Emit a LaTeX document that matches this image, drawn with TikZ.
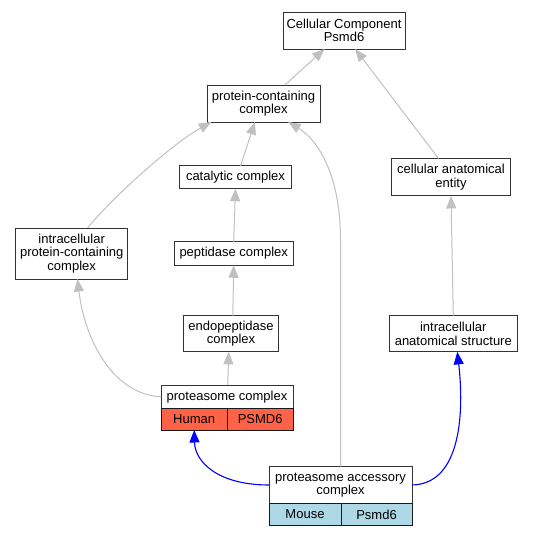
\documentclass[tikz,border=0pt]{standalone}
\usepackage{fontspec}
\setmainfont{Liberation Sans}
\usetikzlibrary{arrows.meta,positioning}
\definecolor{isagray}{HTML}{C0C0C0}
\definecolor{humanred}{HTML}{FF6347}
\definecolor{mouseblue}{HTML}{ADD8E6}
\tikzset{>={Triangle[width=10pt,length=12.5pt]}}
\tikzset{term/.style={shape=rectangle, draw=black!80, line width=1pt, fill=white,
    align=center, inner sep=1pt, outer sep=0pt, font=\fontsize{13}{13.6}\selectfont}}
\tikzset{human/.style={term, draw=black!90, fill=humanred}}
\tikzset{mouse/.style={term, draw=black!90, fill=mouseblue}}
\tikzset{isa/.style={draw=isagray, line width=1pt}}
\tikzset{ortho/.style={draw=blue, line width=1.1pt}}

\begin{document}
\begin{tikzpicture}[x=1pt, y=-1pt]
    \useasboundingbox (0,0) rectangle (533,533);

    \node[term, minimum width=122pt, minimum height=37pt] (cc) at (344,30.5) {Cellular Component\\Psmd6};
    \node[term, minimum width=113pt, minimum height=37pt] (pc) at (263.5,103.5) {protein-containing\\complex};
    \node[term, minimum width=112pt, minimum height=23pt] (cat) at (235.5,177.2) {catalytic complex};
    \node[term, minimum width=119pt, minimum height=37.5pt] (cae) at (451,177.2) {cellular anatomical\\entity};
    \node[term, minimum width=112pt, minimum height=51pt] (ipcc) at (71.7,253.5) {intracellular\\protein-containing\\complex};
    \node[term, minimum width=118.6pt, minimum height=23.5pt] (pep) at (233.7,253.5) {peptidase complex};
    \node[term, minimum width=95pt, minimum height=36.3pt] (endo) at (231,333.7) {endopeptidase\\complex};
    \node[term, minimum width=128pt, minimum height=36.3pt] (ias) at (453.3,333.7) {intracellular\\anatomical structure};

    % human record
    \node[term, minimum width=132pt, minimum height=23.6pt] (protT) at (227,396.8) {proteasome complex};
    \node[human, minimum width=66.4pt, minimum height=21.4pt, anchor=north west] (protH) at (protT.south west) {Human};
    \node[human, minimum width=65.6pt, minimum height=21.4pt, anchor=north west] (protG) at (protH.north east) {PSMD6};

    % mouse record
    \node[term, minimum width=143pt, minimum height=36.7pt] (accT) at (340.5,485) {proteasome accessory\\complex};
    \node[mouse, minimum width=72pt, minimum height=22pt, anchor=north west] (accM) at (accT.south west) {Mouse};
    \node[mouse, minimum width=71pt, minimum height=22pt, anchor=north west] (accP) at (accM.north east) {Psmd6};

    \draw [->][isa] ([xshift=21.3pt]pc.north) to ([xshift=-19.4pt]cc.south);
    \draw [->][isa] ([xshift=-12.5pt]cae.north) to ([xshift=11.2pt]cc.south);
    \draw [->][isa] ([xshift=5.1pt]cat.north) to ([xshift=-8.6pt]pc.south);
    \draw [->][isa] ([xshift=16pt]ipcc.north) .. controls (108,202) and (170,145) .. ([xshift=-52.1pt]pc.south);
    \draw [->][isa] (accT.north) -- (340.5,240) .. controls (340.5,175) and (318,140) .. ([xshift=24.7pt]pc.south);
    \draw [->][isa] (pep.north) to (cat.south);
    \draw [->][isa] ([xshift=1.8pt]endo.north) to (pep.south);
    \draw [->][isa] ([xshift=0.7pt]protT.north) to ([xshift=-2.2pt]endo.south);
    \draw [->][isa] (protT.west) .. controls (110,394) and (84,335) .. ([xshift=5.8pt]ipcc.south);
    \draw [->][isa] (ias.north) to (cae.south);

    \draw [->][ortho] (accT.west) .. controls (218,485) and (195,462) .. (protH.south);
    \draw [->][ortho] (accT.east) .. controls (462,484) and (464,410) .. ([xshift=4pt]ias.south);

\end{tikzpicture}
\end{document}
